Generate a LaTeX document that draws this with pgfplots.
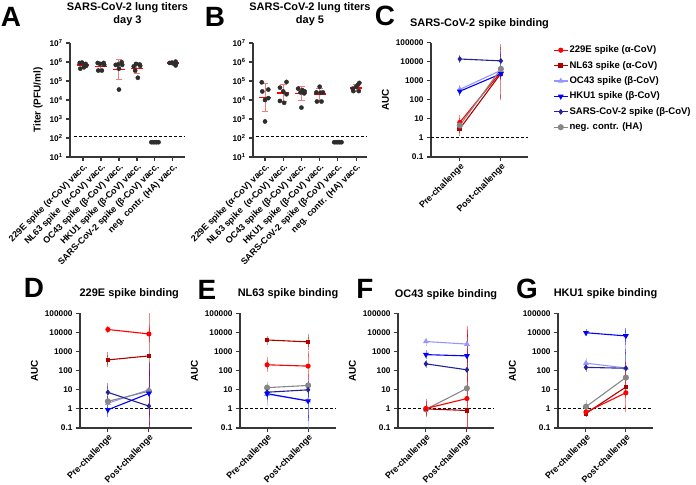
\documentclass[border=0pt]{standalone}
\usepackage{pgfplots}
\pgfplotsset{compat=1.18}
\usepackage{fontspec}
\setmainfont{Liberation Sans}
\definecolor{axgray}{RGB}{55,55,55}
\definecolor{cE}{RGB}{255,0,0}
\definecolor{cN}{RGB}{175,0,0}
\definecolor{cO}{RGB}{150,150,255}
\definecolor{cH}{RGB}{0,0,255}
\definecolor{cS}{RGB}{35,35,150}
\definecolor{cG}{RGB}{135,135,135}
\definecolor{dotc}{RGB}{45,45,45}
\definecolor{errpink}{RGB}{242,125,125}
\pgfplotsset{
 gpax/.style={scale only axis, axis x line*=bottom, axis y line*=left,
   axis line style={line width=1.1bp, axgray, -},
   tick style={line width=1.1bp, axgray},
   major tick length=4bp, tick align=outside,
   tick label style={font=\bfseries\fontsize{8.3}{9}\selectfont, text=black},
   title style={font=\bfseries\fontsize{11}{13}\selectfont, align=center, at={(0.5,1)}, anchor=south, inner sep=0pt},
   ylabel style={font=\bfseries\fontsize{10}{12}\selectfont},
   xticklabel style={rotate=45, anchor=north east, inner sep=1bp},
   unbounded coords=jump},
 aucax/.style={gpax, ymin=0.1, ymax=100000,
   ytick={0.1,1,10,100,1000,10000,100000},
   yticklabels={0.1,1,10,100,1000,10000,100000},
   xticklabel style={font=\bfseries\fontsize{9}{10}\selectfont},
   xtick={0,1}, xticklabels={Pre-challenge,Post-challenge}, ylabel={AUC}},
 titerax/.style={gpax, ymin=10, ymax=10000000,
   ytick={10,100,1000,10000,100000,1000000,10000000},
   yticklabels={10\textsuperscript{1},10\textsuperscript{2},10\textsuperscript{3},10\textsuperscript{4},10\textsuperscript{5},10\textsuperscript{6},10\textsuperscript{7}},
   xtick={0,1,2,3,4,5},
   xticklabels={229E spike (α-CoV) vacc.,NL63 spike \ (α-CoV) vacc.,OC43 spike (β-CoV) vacc.,HKU1 spike (β-CoV) vacc.,SARS-CoV-2 spike (β-CoV) vacc.,neg. contr. (HA) vacc.},
   xticklabel style={font=\bfseries\fontsize{9}{10}\selectfont},
   ylabel={Titer (PFU/ml)}},
 serst/.style={#1, line width=1.1bp, mark options={solid, fill=#1, draw=#1},
   error bars/y dir=both, error bars/y explicit,
   error bars/error bar style={#1, opacity=0.45, line width=0.8bp},
   error bars/error mark options={#1, opacity=0.45, mark size=2.8bp, line width=0.8bp}},
 sE/.style={mark=*, mark size=2bp, serst=cE},
 sN/.style={mark=square*, mark size=1.8bp, serst=cN},
 sO/.style={mark=triangle*, mark size=2.3bp, serst=cO},
 sH/.style={mark=triangle*, mark size=2.3bp, serst=cH, mark options={rotate=180}},
 sS/.style={mark=diamond*, mark size=2.1bp, serst=cS},
 sG/.style={mark=*, mark size=2.5bp, serst=cG},
 lodline/.style={black, line width=0.9bp, dash pattern=on 3bp off 2bp, forget plot},
 tdots/.style={only marks, mark=*, mark size=2.1bp, dotc},
 meanline/.style={cE, line width=1.5bp},
 errline/.style={errpink, line width=1bp},
}
\pgfkeys{/pgfplots/table/ebt/.style={row sep=\\, y error plus expr=\thisrow{hi}-\thisrow{y}, y error minus expr=\thisrow{y}-\thisrow{lo}}}
\begin{document}
\begin{tikzpicture}
\useasboundingbox (0,0) rectangle (696bp,485bp);
\tikzset{plet/.style={font=\bfseries\fontsize{28}{30}\selectfont, inner sep=0pt}}
\node[plet] at (11bp,468bp) {A};
\node[plet] at (215bp,468bp) {B};
\node[plet] at (385bp,469bp) {C};
\node[plet] at (34bp,197bp) {D};
\node[plet] at (207bp,195bp) {E};
\node[plet] at (365bp,196bp) {F};
\node[plet] at (527bp,196bp) {G};

% ---------------- A
\begin{axis}[titerax, ymode=log, yminorticks=false, at={(70bp,328bp)}, anchor=south west, width=115bp, height=114bp,
  xmin=-0.72, xmax=5.67, title={SARS-CoV-2 lung titers\\day 3}, title style={yshift=11.5bp}]
\addplot[lodline] coordinates {(-0.5,125) (5.67,125)};
\addplot[tdots] coordinates {
(-0.18,891000) (-0.05,933000) (0.15,794000) (-0.15,447000) (0.05,525000) (0.18,631000)
(0.82,891000) (0.95,794000) (1.15,891000) (0.85,355000) (1.05,355000) (1.18,708000)
(1.82,708000) (1.95,741000) (2.15,977000) (2.0,447000) (2.0,35500) (2.18,708000)
(2.82,589000) (2.95,794000) (3.15,741000) (2.9,355000) (3.05,148000) (3.18,631000)
(3.8,60) (3.9,60) (4.0,60) (4.1,60) (4.2,60)
(4.82,891000) (4.95,933000) (5.15,1047000) (5.0,851000) (5.15,661000) (5.18,832000)
};
\addplot[errline] coordinates {
(0,525000) (0,851000) (0,nan) (-0.18,525000) (0.18,525000) (0,nan) (-0.18,851000) (0.18,851000) (0,nan)
(1,398000) (1,891000) (1,nan) (0.82,398000) (1.18,398000) (1,nan) (0.82,891000) (1.18,891000) (1,nan)
(2,117000) (2,1410000) (2,nan) (1.82,117000) (2.18,117000) (2,nan) (1.82,1410000) (2.18,1410000) (2,nan)
(3,251000) (3,794000) (3,nan) (2.82,251000) (3.18,251000) (3,nan) (2.82,794000) (3.18,794000) (3,nan)
(5,759000) (5,955000) (5,nan) (4.82,759000) (5.18,759000) (5,nan) (4.82,955000) (5.18,955000)
};
\addplot[meanline] coordinates {
(-0.33,676000) (0.33,676000) (0,nan) (0.67,589000) (1.33,589000) (1,nan)
(1.67,398000) (2.33,398000) (2,nan) (2.67,447000) (3.33,447000) (3,nan)
(4.67,871000) (5.33,871000)};
\addplot[cE, line width=2.2bp] coordinates {(3.7,60) (4.3,60)};
\end{axis}

% ---------------- B
\begin{axis}[titerax, ymode=log, yminorticks=false, at={(253bp,328bp)}, anchor=south west, width=114bp, height=114bp,
  xmin=-0.66, xmax=5.6, title={SARS-CoV-2 lung titers\\day 5}, title style={yshift=11.5bp}, ylabel={}]
\addplot[lodline] coordinates {(-0.5,125) (5.6,125)};
\addplot[tdots] coordinates {
(-0.18,85100) (0.18,35500) (-0.15,28200) (0.0,10000) (0.18,12600) (0.0,741)
(1.18,89100) (0.82,44700) (1.0,28200) (1.18,20000) (0.82,8910) (1.05,7080)
(1.82,39800) (2.05,33100) (2.18,28200) (1.95,25100) (2.15,22400) (2.0,3980)
(3.0,50100) (2.82,25100) (3.05,24000) (3.18,25100) (2.85,8320) (3.1,8320)
(3.8,60) (3.9,60) (4.0,60) (4.1,60) (4.2,60)
(5.18,79400) (5.1,63100) (5.0,50100) (4.82,39800) (4.85,29500) (5.15,29500)
};
\addplot[errline] coordinates {
(0,2630) (0,75900) (0,nan) (-0.18,2630) (0.18,2630) (0,nan) (-0.18,75900) (0.18,75900) (0,nan)
(1,8300) (1,66100) (1,nan) (0.82,8300) (1.18,8300) (1,nan) (0.82,66100) (1.18,66100) (1,nan)
(2,8900) (2,52500) (2,nan) (1.82,8900) (2.18,8900) (2,nan) (1.82,52500) (2.18,52500) (2,nan)
(3,8900) (3,39800) (3,nan) (2.82,8900) (3.18,8900) (3,nan) (2.82,39800) (3.18,39800) (3,nan)
(5,27500) (5,63100) (5,nan) (4.82,27500) (5.18,27500) (5,nan) (4.82,63100) (5.18,63100)
};
\addplot[meanline] coordinates {
(-0.33,13800) (0.33,13800) (0,nan) (0.67,24000) (1.33,24000) (1,nan)
(1.67,22400) (2.33,22400) (2,nan) (2.67,21000) (3.33,21000) (3,nan)
(4.67,41700) (5.33,41700)};
\addplot[cE, line width=2.2bp] coordinates {(3.7,60) (4.3,60)};
\end{axis}

% ---------------- C
\begin{axis}[aucax, ymode=log, yminorticks=false, at={(431bp,328bp)}, anchor=south west, width=97bp, height=114.4bp,
  xmin=-0.7, xmax=1.66, title={SARS-CoV-2 spike binding}, title style={yshift=8bp},
  legend style={at={(1.258,0.985)}, anchor=north west, draw=none, fill=none,
    font=\bfseries\fontsize{9.6}{10}\selectfont, row sep=4bp, inner sep=0pt,
    nodes={inner sep=1.2bp, text height=7bp, text depth=2bp}},
  legend cell align=left,
  legend image code/.code={\draw[mark repeat=2,mark phase=2] plot coordinates {(0bp,0bp) (7bp,0bp) (14bp,0bp)};}]
\addplot[sE] table[ebt] {x y lo hi\\ 0 6.5 4 11\\ 1 2900 1500 5000\\};
\addlegendentry{229E spike (α-CoV)}
\addplot[sN] table[ebt] {x y lo hi\\ 0 3 1.8 5\\ 1 2400 130 60000\\};
\addlegendentry{NL63 spike (α-CoV)}
\addplot[sO] table[ebt] {x y lo hi\\ 0 350 250 450\\ 1 3500 2500 5000\\};
\addlegendentry{OC43 spike (β-CoV)}
\addplot[sH] table[ebt] {x y lo hi\\ 0 280 220 360\\ 1 2300 1800 3000\\};
\addlegendentry{HKU1 spike (β-CoV)}
\addplot[sS] table[ebt] {x y lo hi\\ 0 13800 12000 15500\\ 1 11000 8000 25000\\};
\addlegendentry{SARS-CoV-2 spike (β-CoV)}
\addplot[sG] table[ebt] {x y lo hi\\ 0 4.5 3.5 6\\ 1 4200 3000 6000\\};
\addlegendentry{neg. contr. (HA)}
\addplot[lodline] coordinates {(-0.7,1) (1.66,1)};
\end{axis}

% ---------------- D
\begin{axis}[aucax, ymode=log, yminorticks=false, at={(80bp,57bp)}, anchor=south west, width=112bp, height=114.5bp,
  xmin=-0.68, xmax=2.05, title={229E spike binding}, title style={at={(0.44,1)}, yshift=9bp}]
\addplot[lodline] coordinates {(-0.68,1) (2.05,1)};
\addplot[sO] table[ebt] {x y lo hi\\ 0 2.0 1.5 3\\ 1 10 3 100\\};
\addplot[sG] table[ebt] {x y lo hi\\ 0 2.5 1.9 3.2\\ 1 8.5 5 13\\};
\addplot[sS] table[ebt] {x y lo hi\\ 0 7.4 3.5 15.5\\ 1 1.4 0.5 87\\};
\addplot[sH] table[ebt] {x y lo hi\\ 0 0.9 0.55 1.3\\ 1 6.5 0.15 215\\};
\addplot[sN] table[ebt] {x y lo hi\\ 0 370 210 700\\ 1 600 0.05 200000\\};
\addplot[sE] table[ebt] {x y lo hi\\ 0 14500 13500 15500\\ 1 8500 4700 17800\\};
\end{axis}

% ---------------- E
\begin{axis}[aucax, ymode=log, yminorticks=false, at={(240bp,57bp)}, anchor=south west, width=96bp, height=114.5bp,
  xmin=-0.66, xmax=1.68, title={NL63 spike binding}, title style={yshift=9bp}]
\addplot[lodline] coordinates {(-0.66,1) (1.68,1)};
\addplot[sO] table[ebt] {x y lo hi\\ 0 6 2 15\\ 1 2.7 0.05 40\\};
\addplot[sG] table[ebt] {x y lo hi\\ 0 13 9 19\\ 1 17 12 22\\};
\addplot[sS] table[ebt] {x y lo hi\\ 0 7.5 4 10\\ 1 10 6 15\\};
\addplot[sH] table[ebt] {x y lo hi\\ 0 6.3 4.5 9\\ 1 2.6 0.33 20\\};
\addplot[sE] table[ebt] {x y lo hi\\ 0 205 125 370\\ 1 175 47 760\\};
\addplot[sN] table[ebt] {x y lo hi\\ 0 4100 3300 4800\\ 1 3250 1700 6200\\};
\end{axis}

% ---------------- F
\begin{axis}[aucax, ymode=log, yminorticks=false, at={(398bp,57bp)}, anchor=south west, width=96bp, height=114.5bp,
  xmin=-0.68, xmax=1.66, title={OC43 spike binding}, title style={yshift=8bp}]
\addplot[lodline] coordinates {(-0.68,1) (1.66,1)};
\addplot[sO] table[ebt] {x y lo hi\\ 0 3400 2900 3900\\ 1 2500 400 8000\\};
\addplot[sH] table[ebt] {x y lo hi\\ 0 700 580 850\\ 1 600 350 1000\\};
\addplot[sS] table[ebt] {x y lo hi\\ 0 230 200 270\\ 1 112 35 500\\};
\addplot[sG] table[ebt] {x y lo hi\\ 0 0.95 0.7 1.3\\ 1 12 9 15\\};
\addplot[sN] table[ebt] {x y lo hi\\ 0 1.0 0.6 1.7\\ 1 0.83 0.05 8400\\};
\addplot[sE] table[ebt] {x y lo hi\\ 0 1.05 0.5 2.5\\ 1 3.5 0.05 15000\\};
\end{axis}

% ---------------- G
\begin{axis}[aucax, ymode=log, yminorticks=false, at={(558bp,57bp)}, anchor=south west, width=95bp, height=114.5bp,
  xmin=-0.7, xmax=1.68, title={HKU1 spike binding}, title style={yshift=8.5bp}]
\addplot[lodline] coordinates {(-0.7,1) (1.68,1)};
\addplot[sO] table[ebt] {x y lo hi\\ 0 250 170 340\\ 1 140 40 2000\\};
\addplot[sS] table[ebt] {x y lo hi\\ 0 150 120 180\\ 1 135 120 1000\\};
\addplot[sH] table[ebt] {x y lo hi\\ 0 9800 8800 11000\\ 1 6700 3300 13000\\};
\addplot[sG] table[ebt] {x y lo hi\\ 0 1.3 0.9 2.1\\ 1 44 30 60\\};
\addplot[sN] table[ebt] {x y lo hi\\ 0 0.58 0.5 0.7\\ 1 14 5 200\\};
\addplot[sE] table[ebt] {x y lo hi\\ 0 0.68 0.55 0.85\\ 1 7 1 180\\};
\end{axis}
\end{tikzpicture}
\end{document}
